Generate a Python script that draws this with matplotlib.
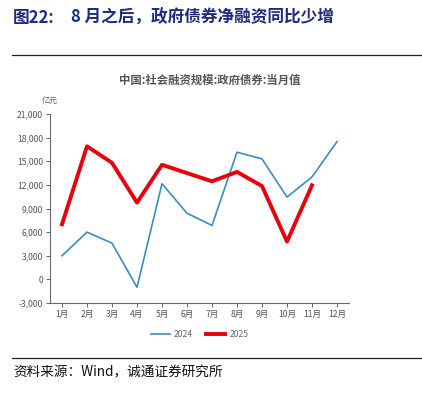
import matplotlib.pyplot as plt
from matplotlib.ticker import FuncFormatter

plt.rcParams['font.family'] = ['Noto Sans CJK SC', 'DejaVu Sans']

months = ['1月', '2月', '3月', '4月', '5月', '6月', '7月', '8月', '9月', '10月', '11月', '12月']
gov_bond_2024 = [3000, 6000, 4600, -1000, 12150, 8400, 6850, 16150, 15300, 10450, 13000, 17500]
gov_bond_2025 = [7000, 16900, 14800, 9750, 14550, 13500, 12450, 13650, 11850, 4800, 11950]
yticks = list(range(-3000, 21001, 3000))

fig = plt.figure(figsize=(4.22, 3.97), dpi=100)

# page header / footer
fig.text(13 / 422, 1 - 18 / 397, '图22:', fontsize=12, fontweight='bold',
         color='#1f2a80', va='center')
fig.text(71 / 422, 1 - 18 / 397, '8 月之后，政府债券净融资同比少增', fontsize=12,
         fontweight='bold', color='#1f2a80', va='center')
fig.add_artist(plt.Line2D([12 / 422, 421 / 422], [1 - 55 / 397] * 2, color='#222222', lw=0.9))
fig.add_artist(plt.Line2D([12 / 422, 421 / 422], [1 - 358 / 397] * 2, color='#222222', lw=0.9))
fig.text(13 / 422, 1 - 372 / 397, '资料来源：Wind，诚通证券研究所', fontsize=9.8,
         color='#111111', va='center')

ax = fig.add_axes([50 / 422, 1 - 303 / 397, 299 / 422, 189 / 397])
x = list(range(1, 13))
ax.plot(x, gov_bond_2024, color='#3a8dbf', lw=1.2, label='2024')
ax.plot(x[:len(gov_bond_2025)], gov_bond_2025, color='#e8000e', lw=2.8, label='2025')

ax.set_xlim(0.52, 12.48)
ax.set_ylim(-3000, 21000)
ax.set_xticks(x)
ax.set_xticklabels(months)
ax.set_yticks(yticks)
ax.yaxis.set_major_formatter(FuncFormatter(lambda v, p: f'{int(v):,}'))
for s in ['top', 'right']:
    ax.spines[s].set_visible(False)
for s in ['left', 'bottom']:
    ax.spines[s].set_color('#666666')
    ax.spines[s].set_linewidth(0.8)
ax.tick_params(axis='both', colors='#666666', labelcolor='#555555', labelsize=6.2,
               length=3, width=0.7, pad=2)

ax.set_title('中国:社会融资规模:政府债券:当月值', fontsize=8.2, fontweight='bold',
             color='#555555', x=(210 - 50) / 299, pad=22)
ax.text(0, 1.05, '亿元', transform=ax.transAxes, fontsize=5.8, color='#666666',
        ha='center', va='bottom')

ax.legend(loc='upper center', bbox_to_anchor=(0.5, -0.1), ncol=2, frameon=False,
          fontsize=6.2, labelcolor='#666666', handlelength=2.2, columnspacing=1.5,
          handletextpad=0.5)

fig.savefig('out.png', dpi=100)
